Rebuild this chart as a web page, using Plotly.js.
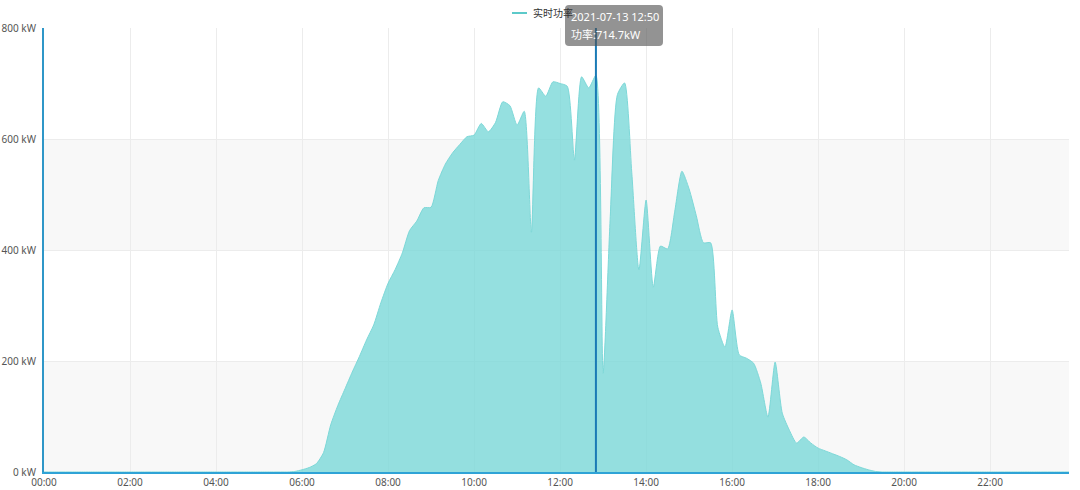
<!DOCTYPE html>
<html>
<head>
<meta charset="utf-8">
<script src="https://cdn.plot.ly/plotly-3.0.1.min.js"></script>
<style>html,body{margin:0;padding:0;background:#fff;}#chart{width:1080px;height:490px;}</style>
</head>
<body>
<div id="chart"></div>
<script>
// Times (10-minute steps) and power values (kW) for 2021-07-13
const dayDate = '2021-07-13';
const timeLabels = [];
for (let m = 0; m < 24 * 60; m += 10) {
  const hh = String(Math.floor(m / 60)).padStart(2, '0');
  const mm = String(m % 60).padStart(2, '0');
  timeLabels.push(hh + ':' + mm);
}
// daytime readings from 05:40 to 19:30; all other times are 0
const dayStart = '05:40';
const dayPower = [
  0, 1, 4, 8, 15, 35, 85, 120, 150, 180, 208, 238, 265, 305,
  340, 365, 395, 435, 452, 476, 477, 525, 555, 575, 590, 604,
  607, 628, 613, 630, 667, 660, 625, 650, 432, 692, 677, 703,
  700, 695, 562, 712, 692, 714.7, 178, 460, 680, 701, 540, 364,
  490, 333, 407, 402, 470, 542, 510, 462, 413, 413, 261, 225,
  292, 211, 205, 196, 160, 99, 198, 106, 75, 52, 63, 52,
  43, 38, 33, 28, 22, 13, 8, 4, 1, 0
];
const startIdx = timeLabels.indexOf(dayStart);
const power = timeLabels.map((t, i) => {
  const k = i - startIdx;
  return (k >= 0 && k < dayPower.length) ? dayPower[k] : 0;
});
const xs = timeLabels.map(t => dayDate + ' ' + t);

const yTicks = [0, 200, 400, 600, 800];
const yTickText = yTicks.map(v => v + ' kW');
const xTicks = ['00:00','02:00','04:00','06:00','08:00','10:00','12:00','14:00','16:00','18:00','20:00','22:00'];
const bands = [[0, 200], [400, 600]];
const seriesName = '实时功率';
const cursorTime = '12:50';
const cursorValue = power[timeLabels.indexOf(cursorTime)];

const font = 'Noto Sans, "Noto Sans CJK SC", sans-serif';

// pixel -> paper helpers for overlay placement (plot area 44..1069, 28..472)
const PL = 44, PR = 1069, PT = 28, PB = 472;
const px = v => (v - PL) / (PR - PL);
const py = v => (PB - v) / (PB - PT);

const shapes = bands.map(b => ({
  type: 'rect', xref: 'paper', yref: 'y', x0: 0, x1: 1, y0: b[0], y1: b[1],
  fillcolor: '#f8f8f8', line: {width: 0}, layer: 'below'
}));
shapes.push({
  type: 'line', xref: 'x', yref: 'paper',
  x0: dayDate + ' ' + cursorTime, x1: dayDate + ' ' + cursorTime, y0: 0, y1: 1,
  line: {color: '#1a7ab5', width: 2}
});
// legend line
shapes.push({
  type: 'line', xref: 'paper', yref: 'paper',
  x0: px(512), x1: px(527), y0: py(13), y1: py(13),
  line: {color: '#5ccaca', width: 2}
});
// tooltip box (rounded)
(function () {
  const x0 = px(565), x1 = px(663), y0 = py(5), y1 = py(46);
  const rx = 4 / (PR - PL), ry = 4 / (PB - PT);
  const path = `M ${x0 + rx},${y0} L ${x1 - rx},${y0} Q ${x1},${y0} ${x1},${y0 - ry} ` +
    `L ${x1},${y1 + ry} Q ${x1},${y1} ${x1 - rx},${y1} L ${x0 + rx},${y1} Q ${x0},${y1} ${x0},${y1 + ry} ` +
    `L ${x0},${y0 - ry} Q ${x0},${y0} ${x0 + rx},${y0} Z`;
  shapes.push({type: 'path', xref: 'paper', yref: 'paper', path: path,
    fillcolor: 'rgba(80,80,80,0.62)', line: {width: 0}, layer: 'above'});
})();

const data = [{
  x: xs, y: power, type: 'scatter', mode: 'lines', name: seriesName,
  line: {color: '#7dd8d8', width: 1, shape: 'spline', smoothing: 0.6},
  fill: 'tozeroy', fillcolor: 'rgba(122,216,216,0.8)',
  hoverinfo: 'skip', showlegend: false
}];

const layout = {
  width: 1080, height: 490,
  margin: {l: 44, r: 11, t: 28, b: 18},
  paper_bgcolor: '#ffffff', plot_bgcolor: 'rgba(0,0,0,0)',
  font: {family: font, size: 10, color: '#555'},
  showlegend: false,
  xaxis: {
    type: 'date',
    range: [dayDate + ' 00:00', dayDate + ' 23:50'],
    tickvals: xTicks.map(t => dayDate + ' ' + t),
    ticktext: xTicks,
    showgrid: true, gridcolor: '#ececec', gridwidth: 1,
    showline: true, linecolor: '#2fa3d6', linewidth: 2,
    zeroline: false, ticks: '', ticklen: 0,
    tickfont: {size: 10, color: '#555'}, fixedrange: true
  },
  yaxis: {
    range: [0, 800],
    tickvals: yTicks, ticktext: yTickText,
    showgrid: true, gridcolor: '#ececec', gridwidth: 1,
    showline: true, linecolor: '#2f97c8', linewidth: 2,
    zeroline: false, ticks: '', ticklen: 0, ticklabelstandoff: 4,
    tickfont: {size: 10, color: '#555'}, fixedrange: true
  },
  shapes: shapes,
  annotations: [
    {
      xref: 'paper', yref: 'paper', x: px(531), y: py(13), xanchor: 'left', yanchor: 'middle',
      text: seriesName, showarrow: false, font: {size: 10, color: '#333', family: font}
    },
    {
      xref: 'paper', yref: 'paper', x: px(569), y: py(17), xanchor: 'left', yanchor: 'middle',
      text: dayDate + ' ' + cursorTime, showarrow: false,
      font: {size: 11, color: '#ffffff', family: font}
    },
    {
      xref: 'paper', yref: 'paper', x: px(569), y: py(35), xanchor: 'left', yanchor: 'middle',
      text: '功率:' + cursorValue + 'kW', showarrow: false,
      font: {size: 11, color: '#ffffff', family: font}
    }
  ]
};

Plotly.newPlot('chart', data, layout, {displayModeBar: false, staticPlot: true});
</script>
</body>
</html>
